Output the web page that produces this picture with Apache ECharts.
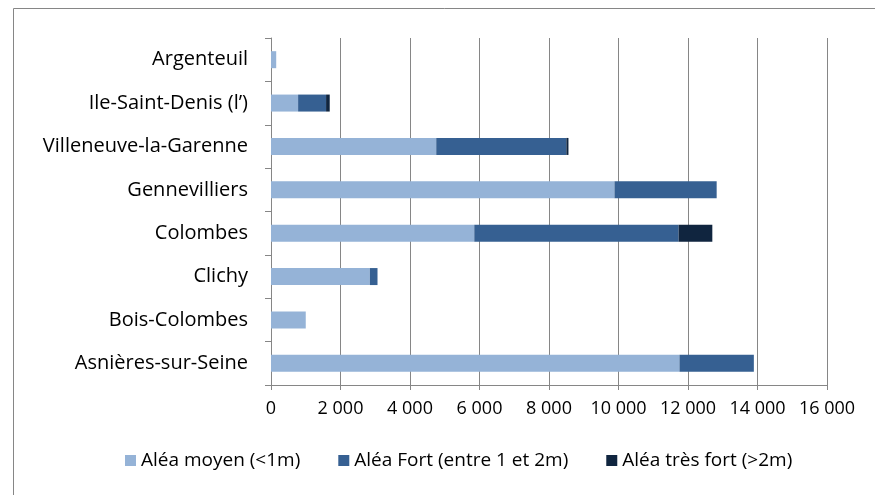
<!DOCTYPE html>
<html>
<head>
<meta charset="utf-8">
<script src="https://cdn.jsdelivr.net/npm/echarts@6/dist/echarts.min.js"></script>
<style>
  html, body { margin: 0; padding: 0; background: #fff; }
  #chart { width: 875px; height: 495px; }
</style>
</head>
<body>
<div id="chart"></div>
<script>
// bottom to top, as ECharts draws a category y axis
const communes = ['Asnières-sur-Seine', 'Bois-Colombes', 'Clichy', 'Colombes', 'Gennevilliers', 'Villeneuve-la-Garenne', 'Ile-Saint-Denis (l\u2019)', 'Argenteuil']
const aleaMoyen = [11755, 1000, 2845, 5850, 9885, 4755, 780, 150]
const aleaFort = [2140, 0, 220, 5880, 2940, 3745, 805, 0]
const aleaTresFort = [0, 0, 0, 970, 0, 60, 105, 0]
const seriesNames = ['Aléa moyen (<1m)', 'Aléa Fort (entre 1 et 2m)', 'Aléa très fort (>2m)']
const colors = ['#95b3d7', '#366092', '#10253f']

const chart = echarts.init(document.getElementById('chart'), null, { renderer: 'canvas' })

const fontFamily = '"Open Sans", Lato, sans-serif'
const fmt = v => v === 0 ? '0' : String(v).replace(/\B(?=(\d{3})+(?!\d))/g, ' ')

const makeSeries = (name, data, color) => ({
  name,
  type: 'bar',
  stack: 'total',
  data,
  barWidth: 17,
  itemStyle: { color },
  emphasis: { disabled: true }
})

chart.setOption({
  animation: false,
  color: colors,
  graphic: [{
    type: 'rect',
    shape: { x: 13.5, y: 8.5, width: 900, height: 520 },
    style: { fill: 'none', stroke: '#868686', lineWidth: 1 },
    silent: true
  }],
  grid: { left: 271, right: 48, top: 38, bottom: 110 },
  legend: {
    bottom: 20,
    left: 120,
    itemWidth: 11,
    itemHeight: 11,
    itemGap: 38,
    icon: 'rect',
    textStyle: { fontFamily, fontSize: 19, color: '#000' },
    data: seriesNames
  },
  xAxis: {
    type: 'value',
    min: 0,
    max: 16000,
    interval: 2000,
    axisLine: { show: true, lineStyle: { color: '#868686' } },
    axisTick: { show: true, length: 5, lineStyle: { color: '#868686' } },
    splitLine: { show: true, lineStyle: { color: '#868686', width: 1 } },
    axisLabel: { fontFamily, fontSize: 18, color: '#000', margin: 15, formatter: fmt }
  },
  yAxis: {
    type: 'category',
    data: communes,
    axisLine: { show: true, lineStyle: { color: '#868686' } },
    axisTick: { show: true, length: 6, lineStyle: { color: '#868686' } },
    axisLabel: { fontFamily, fontSize: 20, color: '#000', margin: 23 }
  },
  series: [
    makeSeries(seriesNames[0], aleaMoyen, colors[0]),
    makeSeries(seriesNames[1], aleaFort, colors[1]),
    makeSeries(seriesNames[2], aleaTresFort, colors[2])
  ]
})
</script>
</body>
</html>
